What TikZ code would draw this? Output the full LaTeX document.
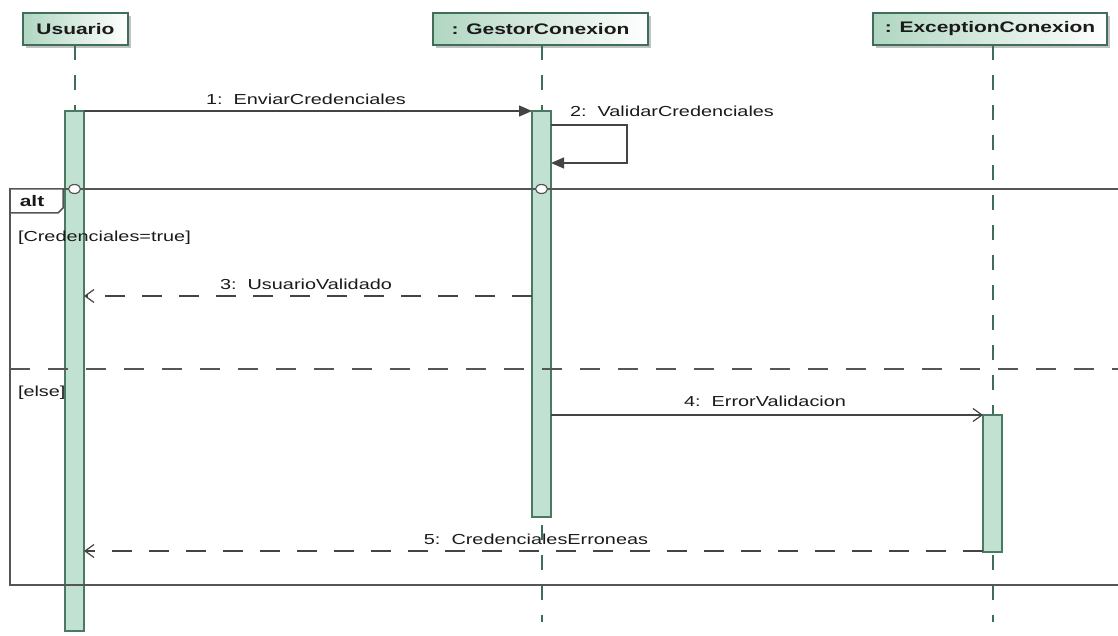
\documentclass[tikz,border=0pt]{standalone}
\usepackage{fontspec}
\setmainfont{Liberation Sans}[FakeStretch=1.37]
\usetikzlibrary{arrows.meta,shadows,shapes.geometric}

\definecolor{headgreen}{HTML}{B0D6C1}
\definecolor{boxedge}{HTML}{3F6F5A}
\definecolor{lifegreen}{HTML}{3E6E58}
\definecolor{actfill}{HTML}{C1E2D2}
\definecolor{actedge}{HTML}{4A7A62}
\definecolor{linegray}{HTML}{444444}
\definecolor{framegray}{HTML}{555555}
\definecolor{txt}{HTML}{1A1A1A}

\newcommand{\msgfont}{\fontsize{14.5}{17}\selectfont}
\newcommand{\hdfont}{\fontsize{15.3}{18}\selectfont\bfseries}

\begin{document}
\begin{tikzpicture}[x=1pt,y=-1pt,
  every node/.style={inner sep=0pt, outer sep=0pt, text=txt},
  headbox/.style={draw=boxedge, line width=1.3pt, left color=headgreen, right color=white,
    minimum height=32pt, font=\hdfont,
    drop shadow={shadow xshift=3pt, shadow yshift=-3pt, fill=black!40, opacity=0.6}},
  actbar/.style={draw=actedge, line width=1.3pt, fill=actfill, minimum width=19pt},
  lifeline/.style={draw=lifegreen, line width=2pt, dash pattern=on 15pt off 15pt},
  msglabel/.style={font=\msgfont, anchor=base},
  guard/.style={font=\msgfont, anchor=base west},
  sync/.style={draw=linegray, line width=1.3pt, -{Triangle[length=13pt,width=11pt]}},
  reply/.style={draw=linegray, line width=1.3pt, dash pattern=on 20pt off 17pt,
    -{Straight Barb[length=9pt,width=13pt,line width=1.2pt]}},
  async/.style={draw=linegray, line width=1.3pt,
    -{Straight Barb[length=9pt,width=13pt,line width=1.2pt]}},
  framebox/.style={draw=framegray, line width=1.5pt},
  separator/.style={draw=framegray, line width=1.5pt, dash pattern=on 20pt off 18pt},
  joint/.style={draw=framegray, line width=1.2pt, fill=white, ellipse, minimum width=12pt, minimum height=9pt}
]
\useasboundingbox (0,0) rectangle (1118,636);
\clip (0,0) rectangle (1118,636);

% participant heads
\node[headbox, minimum width=105pt] (hU) at (75.5,29) {Usuario};
\node[headbox, minimum width=215pt] (hG) at (540.5,29) {: GestorConexion};
\node[headbox, minimum width=234pt] (hE) at (990,29) {: ExceptionConexion};

% activation bars (placed first so lifelines can refer to them)
\path
  node[actbar, minimum height=520pt] (aU) at (74.5,371) {}
  node[actbar, minimum height=406pt] (aG) at (541.5,314) {}
  node[actbar, minimum height=137pt] (aE) at (992.5,483.5) {};

% lifelines
\coordinate (endU) at (74.5,622);
\coordinate (endG) at (541.5,622);
\coordinate (endE) at (992.5,622);
\draw[lifeline] (aU |- hU.south) -- (endU);
\draw[lifeline] (aG |- hG.south) -- (endG);
\draw[lifeline] (aE |- hE.south) -- (endE);

% redraw activation bars above the lifelines
\node[actbar, minimum height=520pt] at (aU) {};
\node[actbar, minimum height=406pt] at (aG) {};
\node[actbar, minimum height=137pt] at (aE) {};

% combined fragment "alt"
\coordinate (fTL) at (10,189);
\coordinate (fBL) at (10,585);
\coordinate (fTR) at (1130,189);
\coordinate (fBR) at (1130,585);
\draw[framebox] (fTR) -- (fTL) -- (fBL) -- (fBR);
\coordinate (sepL) at (10,369);
\coordinate (sepR) at (1130,369);
\draw[separator] (sepL) -- (sepR);
\draw[framebox, fill=white] (10,189) -- (63,189) -- (63,208) -- (58,213) -- (10,213) -- cycle;
\node[font=\hdfont, anchor=base] (altlbl) at (32,207) {alt};
\node[joint] (jU) at (74.5,189) {};
\node[joint] (jG) at (541.5,189) {};
\node[guard] (g1) at (18,242) {[Credenciales=true]};
\node[guard] (g2) at (18,396) {[else]};

% 1: EnviarCredenciales
\draw[sync] (aU.north east) -- (aG.north west);
\node[msglabel] (l1) at (306,105) {1:\ \ EnviarCredenciales};

% 2: ValidarCredenciales (self call)
\coordinate (s2a) at (aG.east |- 0,125);
\coordinate (s2b) at (aG.east |- 0,163);
\draw[sync] (s2a) -- ++(76,0) |- (s2b);
\node[msglabel] (l2) at (672,117) {2:\ \ ValidarCredenciales};

% 3: UsuarioValidado
\coordinate (m3a) at (aG.west |- 0,296);
\coordinate (m3b) at (aU.east |- 0,296);
\draw[reply] (m3a) -- (m3b);
\node[msglabel] (l3) at (306,289) {3:\ \ UsuarioValidado};

% 4: ErrorValidacion
\coordinate (m4a) at (aG.east |- aE.north);
\draw[async] (m4a) -- (aE.north west);
\node[msglabel] (l4) at (765,406) {4:\ \ ErrorValidacion};

% 5: CredencialesErroneas
\coordinate (m5a) at ([yshift=1pt]aE.south west);
\coordinate (m5b) at (aU.east |- m5a);
\draw[reply] (m5a) -- (m5b);
\node[msglabel] (l5) at (536,544) {5:\ \ CredencialesErroneas};
\end{tikzpicture}
\end{document}
